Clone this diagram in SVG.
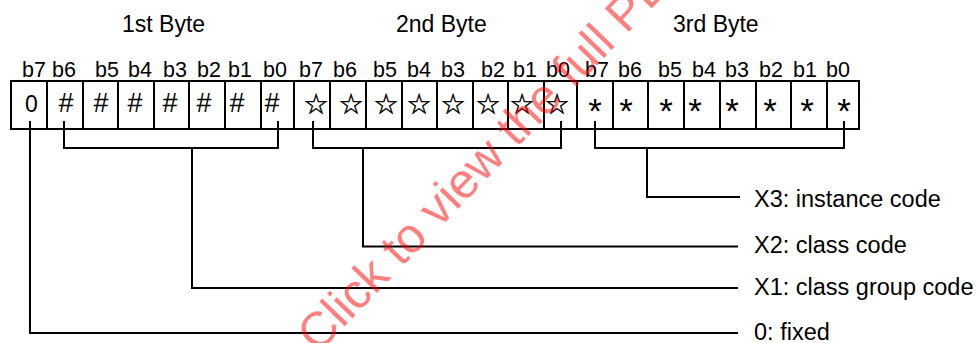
<svg xmlns="http://www.w3.org/2000/svg" width="979" height="343" viewBox="0 0 979 343">
<style>
  .t { font-family: "Liberation Sans", Arial, sans-serif; fill: #000; }
  .hdr { font-size: 23px; }
  .bit { font-size: 21.5px; }
  .cell { font-size: 23px; text-anchor: middle; }
  .hash { font-family: "Liberation Sans", Arial, sans-serif; font-size: 27px; text-anchor: middle; fill: #000; }
  .star { font-family: "DejaVu Sans", sans-serif; font-size: 28px; text-anchor: middle; fill: #000; stroke: #000; stroke-width: 0.5; }
  .ast { font-family: "Liberation Sans", Arial, sans-serif; font-size: 35px; text-anchor: middle; fill: #000; }
  .lbl { font-size: 23.5px; }
  .box { fill: #fff; stroke: #000; stroke-width: 2; }
  .sep { stroke: #000; stroke-width: 2; }
  .conn { fill: none; stroke: #000; stroke-width: 2; }
  .wm { font-family: "Liberation Sans", Arial, sans-serif; font-size: 49px; fill: #ff0000; opacity: 0.5; }
</style>
<rect width="979" height="343" fill="#fff"/>

<g id="headers" class="t hdr">
  <text x="122" y="32">1st Byte</text>
  <text x="396" y="32">2nd Byte</text>
  <text x="673" y="32">3rd Byte</text>
</g>

<g id="byte1">
  <rect class="box" x="11" y="81" width="283" height="48"/>
  <g class="sep">
    <line x1="47" y1="81" x2="47" y2="129"/>
    <line x1="83" y1="81" x2="83" y2="129"/>
    <line x1="118" y1="81" x2="118" y2="129"/>
    <line x1="154" y1="81" x2="154" y2="129"/>
    <line x1="189" y1="81" x2="189" y2="129"/>
    <line x1="225" y1="81" x2="225" y2="129"/>
    <line x1="261" y1="81" x2="261" y2="129"/>
  </g>
  <g class="t bit">
    <text x="22" y="77">b7</text><text x="52" y="77">b6</text><text x="95" y="77">b5</text><text x="128" y="77">b4</text>
    <text x="163" y="77">b3</text><text x="197" y="77">b2</text><text x="228" y="77">b1</text><text x="263" y="77">b0</text>
  </g>
  <text class="t cell" x="31.5" y="111.5">0</text>
  <g class="hash">
    <text x="66" y="112">#</text><text x="101" y="112">#</text><text x="135" y="112">#</text><text x="170" y="112">#</text>
    <text x="204" y="112">#</text><text x="237" y="112">#</text><text x="272" y="112">#</text>
  </g>
</g>

<g id="byte2">
  <rect class="box" x="294" y="81" width="283" height="48"/>
  <g class="sep">
    <line x1="330" y1="81" x2="330" y2="129"/>
    <line x1="366" y1="81" x2="366" y2="129"/>
    <line x1="402" y1="81" x2="402" y2="129"/>
    <line x1="437" y1="81" x2="437" y2="129"/>
    <line x1="473" y1="81" x2="473" y2="129"/>
    <line x1="508" y1="81" x2="508" y2="129"/>
    <line x1="544" y1="81" x2="544" y2="129"/>
  </g>
  <g class="t bit">
    <text x="299" y="77">b7</text><text x="333" y="77">b6</text><text x="373" y="77">b5</text><text x="407" y="77">b4</text>
    <text x="441" y="77">b3</text><text x="481" y="77">b2</text><text x="513" y="77">b1</text><text x="546" y="77">b0</text>
  </g>
  <g class="star">
    <text x="316" y="114">☆</text><text x="351" y="114">☆</text><text x="386" y="114">☆</text><text x="419" y="114">☆</text>
    <text x="453" y="114">☆</text><text x="488" y="114">☆</text><text x="522" y="114">☆</text><text x="557" y="114">☆</text>
  </g>
</g>

<g id="byte3">
  <rect class="box" x="577" y="81" width="282" height="48"/>
  <g class="sep">
    <line x1="613" y1="81" x2="613" y2="129"/>
    <line x1="648" y1="81" x2="648" y2="129"/>
    <line x1="684" y1="81" x2="684" y2="129"/>
    <line x1="720" y1="81" x2="720" y2="129"/>
    <line x1="756" y1="81" x2="756" y2="129"/>
    <line x1="791" y1="81" x2="791" y2="129"/>
    <line x1="827" y1="81" x2="827" y2="129"/>
  </g>
  <g class="t bit">
    <text x="585" y="77">b7</text><text x="618" y="77">b6</text><text x="658" y="77">b5</text><text x="692" y="77">b4</text>
    <text x="725" y="77">b3</text><text x="759" y="77">b2</text><text x="793" y="77">b1</text><text x="826" y="77">b0</text>
  </g>
  <g class="ast">
    <text x="595" y="123">*</text><text x="626" y="123">*</text><text x="666" y="123">*</text><text x="695" y="123">*</text>
    <text x="732" y="123">*</text><text x="770" y="123">*</text><text x="807" y="123">*</text><text x="844" y="123">*</text>
  </g>
</g>

<g id="connectors" class="conn">
  <polyline points="30,121 30,333 738,333"/>
  <polyline points="64,121 64,148 278,148 278,121"/>
  <polyline points="192,148 192,288 738,288"/>
  <polyline points="313,121 313,148 561,148 561,121"/>
  <polyline points="363,148 363,246.5 738,246.5"/>
  <polyline points="595,121 595,148 844,148 844,121"/>
  <polyline points="647,148 647,197 740,197"/>
</g>

<g id="label-x3" class="t lbl"><text x="754" y="207">X3: instance code</text></g>
<g id="label-x2" class="t lbl"><text x="754" y="253">X2: class code</text></g>
<g id="label-x1" class="t lbl"><text x="754" y="295">X1: class group code</text></g>
<g id="label-fixed" class="t lbl"><text x="754" y="340">0: fixed</text></g>

<text class="wm" x="318" y="354" transform="rotate(-46 318 354)">Click to view the full PDF</text>
</svg>
